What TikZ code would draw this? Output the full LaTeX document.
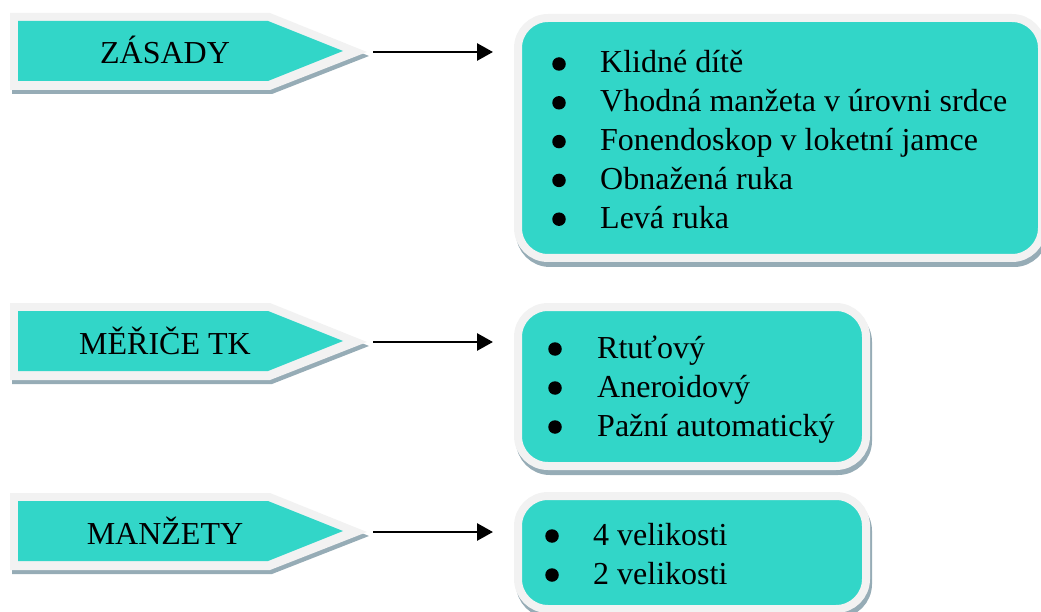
\documentclass[tikz,border=0pt]{standalone}
\usepackage{fontspec}
\setmainfont{Liberation Serif}
\usetikzlibrary{arrows.meta,shadows}
\definecolor{tyrkys}{RGB}{50,214,200}
\definecolor{okraj}{RGB}{242,242,242}
\definecolor{stin}{RGB}{150,172,182}

\begin{document}
\begin{tikzpicture}[x=1pt, y=-1pt,
	box/.style={rectangle, rounded corners=30pt, fill=tyrkys, draw=okraj, line width=8pt,
	  inner sep=0pt, outer sep=0pt,
	  general shadow={fill=stin, draw=stin, line width=8pt, shadow xshift=2pt, shadow yshift=-5pt}},
	conn/.style={line width=2.8pt, -{Triangle[length=16pt,width=17pt]}, shorten >=25pt},
	tagtext/.style={font=\fontsize{32}{38}\selectfont, anchor=base, inner sep=0pt},
	item/.style={font=\fontsize{32}{38}\selectfont, anchor=base west, inner sep=0pt},
	dot/.style={circle, fill=black, inner sep=0pt, minimum size=13.5pt}]
	\useasboundingbox (0,0) rectangle (1041,612);
	% boxes on the right
	\node[box, minimum width=524pt, minimum height=240pt] (box1) at (780,138) {};
	\node[box, minimum width=348pt, minimum height=159pt] (box2) at (692,386.5) {};
	\node[box, minimum width=348pt, minimum height=113pt] (box3) at (692,552.5) {};
	% tags with arrows
	\foreach \dy/\n/\txt in {0/1/ZÁSADY, 290/2/MĚŘIČE TK, 480/3/MANŽETY}{
	  \begin{scope}[shift={(0,\dy)}]
	    \fill[stin] (12,17) -- (272,17) -- (369,56) -- (272,94) -- (12,94) -- cycle;
	    \fill[okraj] (10,13) -- (270,13) -- (367,52) -- (270,90) -- (10,90) -- cycle;
	    \fill[tyrkys] (18,21) -- (268,21) -- (343,51) -- (268,81) -- (18,81) -- cycle;
	    \node[tagtext] (tag\n) at (165,64) {\txt};
	    \coordinate (tip\n) at (373,52);
	  \end{scope}
	  \draw[conn] (tip\n) -- (tip\n -| box\n.west);
	}
	% items
	\foreach \t [count=\i] in {Klidné dítě, Vhodná manžeta v úrovni srdce,
	    Fonendoskop v loketní jamce, Obnažená ruka, Levá ruka}{
	  \node[dot] (zasd\i) at (559,25.2+38.8*\i) {};
	  \node[item] (zas\i) at (600,34.2+38.8*\i) {\t};
	}
	\foreach \t [count=\i] in {Rtuťový, Aneroidový, Pažní automatický}{
	  \node[dot] (merd\i) at (555,310+39*\i) {};
	  \node[item] (mer\i) at (597,319+39*\i) {\t};
	}
	\foreach \t [count=\i] in {4 velikosti, 2 velikosti}{
	  \node[dot] (mand\i) at (552,497+39*\i) {};
	  \node[item] (man\i) at (593,506+39*\i) {\t};
	}
\end{tikzpicture}
\end{document}
